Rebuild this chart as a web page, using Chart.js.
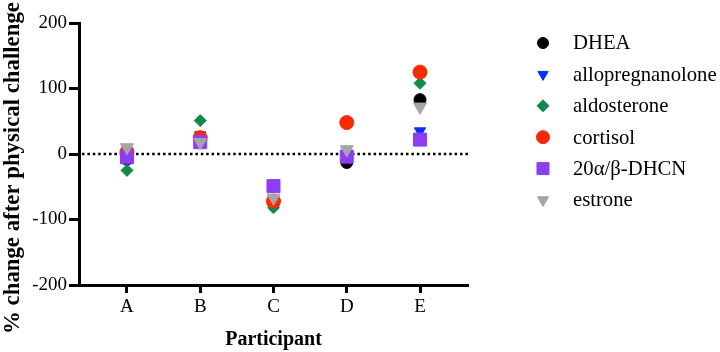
<!DOCTYPE html>
<html>
<head>
<meta charset="utf-8">
<script src="https://cdn.jsdelivr.net/npm/chart.js@4.4.1/dist/chart.umd.min.js"></script>
<style>
  html, body { margin: 0; padding: 0; background: #ffffff; }
  #wrap { width: 720px; height: 352px; position: relative; }
</style>
</head>
<body>
<div id="wrap"><canvas id="c"></canvas></div>
<script>
// ---- data ----
const participants = ['A', 'B', 'C', 'D', 'E'];
const yTicks = [-200, -100, 0, 100, 200];
const seriesNames = ['DHEA', 'allopregnanolone', 'aldosterone', 'cortisol', '20\u03B1/\u03B2-DHCN', 'estrone'];
const dhea = [-8, 20, -75, -13, 83];
const allopregnanolone = [0, 29, -70, 0, 35];
const aldosterone = [-25, 51, -82, 0, 108];
const cortisol = [3, 25, -72, 48, 125];
const dhcn = [-5, 18, -49, -4, 22];
const estrone = [10, 18, -67, 7, 72];
const seriesValues = [dhea, allopregnanolone, aldosterone, cortisol, dhcn, estrone];

// ---- styles ----
const styles = [
  { color: '#000000', pointStyle: 'circle', radius: 6, rotation: 0, legendRadius: 5.5 },
  { color: '#0a2ff5', pointStyle: 'triangle', radius: 6.5, rotation: 180, legendRadius: 6 },
  { color: '#0f8a4c', pointStyle: 'rectRot', radius: 6, rotation: 0, legendRadius: 6 },
  { color: '#fb2a05', pointStyle: 'circle', radius: 7, rotation: 0, legendRadius: 6.5 },
  { color: '#8c3ef5', pointStyle: 'rect', radius: 9.2, rotation: 0, legendRadius: 8.5 },
  { color: '#a5a5a5', pointStyle: 'triangle', radius: 7.5, rotation: 180, legendRadius: 6.5 }
];

const datasets = seriesNames.map((name, i) => ({
  label: name,
  data: seriesValues[i].map((v, j) => ({ x: j, y: v })),
  pointStyle: styles[i].pointStyle,
  pointRadius: styles[i].radius,
  pointRotation: styles[i].rotation,
  backgroundColor: styles[i].color,
  borderColor: styles[i].color,
  borderWidth: 1,
  order: seriesNames.length - i
}));

const SERIF = "'Liberation Serif', 'Times New Roman', serif";

const zeroLine = {
  id: 'zeroLine',
  beforeDatasetsDraw(chart) {
    const { ctx, chartArea, scales } = chart;
    const y = scales.y.getPixelForValue(0);
    ctx.save();
    ctx.strokeStyle = '#000';
    ctx.lineWidth = 2.5;
    ctx.setLineDash([2.5, 2.9]);
    ctx.beginPath();
    ctx.moveTo(chartArea.left + 3, y);
    ctx.lineTo(chartArea.right, y);
    ctx.stroke();
    ctx.restore();
  }
};

function drawMarker(ctx, style, r, x, y) {
  if (Chart.helpers && Chart.helpers.drawPoint) {
    ctx.fillStyle = style.color;
    ctx.strokeStyle = style.color;
    ctx.lineWidth = 1;
    Chart.helpers.drawPoint(ctx, { pointStyle: style.pointStyle, rotation: style.rotation, radius: r, borderWidth: 1 }, x, y);
  }
}

const sideLegend = {
  id: 'sideLegend',
  afterDraw(chart) {
    const { ctx } = chart;
    ctx.save();
    const markerX = 543, textX = 573, top = 43, step = 31.4;
    ctx.font = '20.7px ' + SERIF;
    ctx.textBaseline = 'middle';
    ctx.textAlign = 'left';
    seriesNames.forEach((name, i) => {
      const y = top + i * step;
      drawMarker(ctx, styles[i], styles[i].legendRadius, markerX, y);
      ctx.fillStyle = '#000';
      ctx.fillText(name, textX, y + 1);
    });
    ctx.restore();
  }
};

const yTitle = {
  id: 'yTitle',
  afterDraw(chart) {
    const { ctx } = chart;
    ctx.save();
    ctx.translate(13, 168);
    ctx.rotate(-Math.PI / 2);
    ctx.font = 'bold 22.8px ' + SERIF;
    ctx.fillStyle = '#000';
    ctx.textAlign = 'center';
    ctx.textBaseline = 'middle';
    ctx.fillText('% change after physical challenge', 0, 0);
    ctx.restore();
  }
};

new Chart(document.getElementById('c'), {
  type: 'scatter',
  data: { datasets },
  options: {
    responsive: true,
    maintainAspectRatio: false,
    animation: false,
    layout: { padding: { top: 23, right: 252, left: 0, bottom: 0 } },
    plugins: {
      legend: { display: false },
      tooltip: { enabled: false }
    },
    scales: {
      x: {
        type: 'linear',
        min: -0.655,
        max: participants.length - 1 + 0.655,
        afterBuildTicks: s => { s.ticks = participants.map((p, i) => ({ value: i })); },
        afterFit: s => { s.height = 67; },
        ticks: {
          callback: v => participants[v] ?? '',
          color: '#000',
          font: { family: SERIF, size: 19 },
          padding: 3,
          autoSkip: false,
          maxRotation: 0
        },
        grid: { drawOnChartArea: false, drawTicks: true, tickLength: 8, tickWidth: 3, tickColor: '#000' },
        border: { display: true, color: '#000', width: 3 },
        title: {
          display: true,
          text: 'Participant',
          color: '#000',
          font: { family: SERIF, size: 20, weight: 'bold' },
          padding: { top: 5, bottom: 0 }
        }
      },
      y: {
        min: -200,
        max: 200,
        afterBuildTicks: s => { s.ticks = yTicks.map(v => ({ value: v })); },
        afterFit: s => { s.width = 79; },
        ticks: {
          color: '#000',
          font: { family: SERIF, size: 19 },
          padding: 2
        },
        grid: { drawOnChartArea: false, drawTicks: true, tickLength: 10, tickWidth: 3, tickColor: '#000' },
        border: { display: true, color: '#000', width: 3 }
      }
    }
  },
  plugins: [zeroLine, sideLegend, yTitle]
});
</script>
</body>
</html>
